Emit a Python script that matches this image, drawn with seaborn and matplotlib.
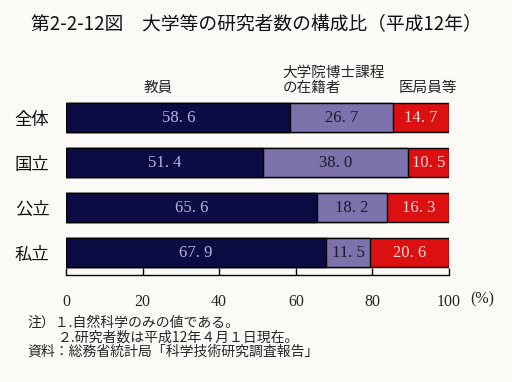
import matplotlib
matplotlib.use("Agg")
import matplotlib.pyplot as plt
import seaborn as sns
import pandas as pd
import numpy as np

categories = ["全体", "国立", "公立", "私立"]
series_names = ["教員", "大学院博士課程", "の在籍者", "医局員等"]
teachers = [58.6, 51.4, 65.6, 67.9]
doctoral = [26.7, 38.0, 18.2, 11.5]
medical = [14.7, 10.5, 16.3, 20.6]
xticks = [0, 20, 40, 60, 80, 100]

sns.set_theme(style="white")
plt.rcParams['font.family'] = ['Noto Sans CJK JP', 'DejaVu Sans']

colors = ["#0c0c44", "#7e72ac", "#dc1010"]
text_colors = ["#b8b0e0", "#1a1a30", "#ffd8d8"]

fig = plt.figure(figsize=(5.12, 3.82), dpi=100, facecolor="#fbfaf7")
ax = fig.add_axes([0.129, 0.280, 0.748, 0.471])
ax.set_facecolor("#fbfaf7")

vals = [np.array(teachers), np.array(doctoral), np.array(medical)]
cums = np.cumsum(vals, axis=0)
df = pd.DataFrame({"cat": categories})
# draw cumulative totals from largest to smallest so segments stack
for i in [2, 1, 0]:
    df["v"] = cums[i]
    sns.barplot(data=df, x="v", y="cat", orient="h", color=colors[i],
                saturation=1, width=0.65, edgecolor="black", linewidth=1.0, ax=ax)

for i in range(3):
    lefts = cums[i] - vals[i]
    for j, cat in enumerate(categories):
        txt = f"{vals[i][j]:.1f}".replace(".", ". ")
        ax.text(lefts[j] + vals[i][j] / 2, j, txt, ha="center", va="center",
                color=text_colors[i], fontsize=12, family=["Liberation Serif"])

ax.set_xlim(0, 100)
ax.set_ylim(3.5, -0.5)
ax.set_xlabel("")
ax.set_ylabel("")
for s in ["top", "right", "left"]:
    ax.spines[s].set_visible(False)
ax.spines["bottom"].set_color("black")
ax.spines["bottom"].set_linewidth(1.0)
ax.set_xticks(xticks)
ax.set_xticklabels([str(t) for t in xticks], family=["Liberation Serif"], fontsize=11.5)
ax.tick_params(axis="x", direction="in", length=5, width=1, color="black", pad=14, bottom=True)
ax.tick_params(axis="y", length=0, pad=12, labelsize=12.5)
for lab in ax.get_yticklabels():
    lab.set_color("#111111")
fig.text(0.941, 0.215, "(%)", ha="center", va="center", fontsize=11.5, family=["Liberation Serif"])

# series headers
ax.text(24, -0.656, series_names[0], ha="center", va="center", fontsize=10.5)
ax.text(56.6, -0.99, series_names[1], ha="left", va="center", fontsize=10.5)
ax.text(56.6, -0.656, series_names[2], ha="left", va="center", fontsize=10.5)
ax.text(94.5, -0.656, series_names[3], ha="center", va="center", fontsize=10.5)

fig.text(0.5, 0.935, "第2-2-12図　大学等の研究者数の構成比（平成12年）", ha="center",
         va="center", fontsize=13.5, color="#111111")
fig.text(0.053, 0.155, "注）１.自然科学のみの値である。", fontsize=10, va="center")
fig.text(0.113, 0.117, "２.研究者数は平成12年４月１日現在。", fontsize=10, va="center")
fig.text(0.053, 0.079, "資料：総務省統計局「科学技術研究調査報告」", fontsize=10, va="center")

fig.savefig("out.png", dpi=100, facecolor=fig.get_facecolor())
